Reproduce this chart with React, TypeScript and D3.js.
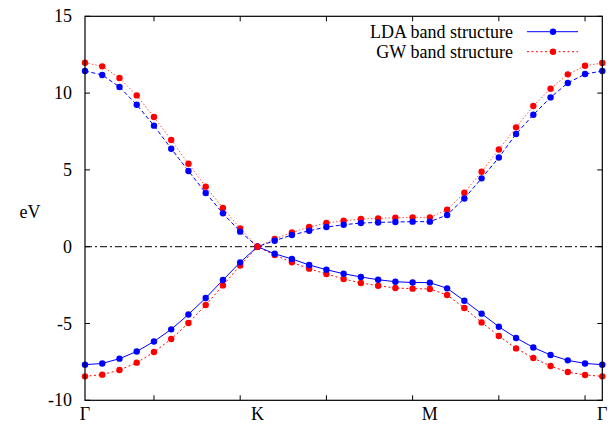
import { useEffect, useRef } from 'react';
import * as d3 from 'd3';

// k-point index along the path Γ -> K -> M -> Γ
const kPoints = [1, 2, 3, 4, 5, 6, 7, 8, 9, 10, 11, 12, 13, 14, 15, 16, 17, 18, 19, 20, 21, 22, 23, 24, 25, 26, 27, 28, 29, 30, 31];

const ldaValence = [-7.68, -7.60, -7.29, -6.82, -6.17, -5.38, -4.41, -3.34, -2.17, -1.02, 0,
  -0.46, -0.80, -1.19, -1.50, -1.76, -1.97, -2.15, -2.28, -2.33, -2.34,
  -2.71, -3.52, -4.36, -5.21, -5.94, -6.56, -7.05, -7.40, -7.60, -7.68];
const ldaConduction = [11.44, 11.18, 10.40, 9.24, 7.88, 6.38, 4.93, 3.50, 2.17, 0.98, 0,
  0.39, 0.76, 1.04, 1.28, 1.43, 1.54, 1.58, 1.61, 1.63, 1.63,
  2.06, 3.14, 4.45, 5.81, 7.34, 8.59, 9.72, 10.66, 11.24, 11.44];
const gwValence = [-8.44, -8.33, -8.03, -7.55, -6.86, -6.01, -4.97, -3.80, -2.52, -1.22, 0,
  -0.54, -1.02, -1.43, -1.78, -2.10, -2.36, -2.54, -2.69, -2.73, -2.75,
  -3.14, -3.99, -4.93, -5.81, -6.62, -7.25, -7.77, -8.16, -8.35, -8.44];
const gwConduction = [11.98, 11.74, 10.98, 9.85, 8.44, 6.95, 5.40, 3.91, 2.52, 1.19, 0,
  0.50, 0.93, 1.28, 1.54, 1.69, 1.80, 1.84, 1.89, 1.91, 1.91,
  2.41, 3.52, 4.88, 6.33, 7.77, 9.16, 10.29, 11.22, 11.78, 11.96];

const yTicks = [-10, -5, 0, 5, 10, 15];
const xTicks = [5, 10, 15, 20, 25, 30];
const symmetryLabels = ['Γ', 'K', 'M', 'Γ'];
const symmetryPoints = [1, 11, 21, 31];
const legendLabels = ['LDA band structure', 'GW band structure'];

const width = 613;
const height = 424;
const font = "'Liberation Serif', Tinos, 'Times New Roman', Times, 'Noto Serif', 'DejaVu Serif', serif";

const App = () => {
  const svgRef = useRef<SVGSVGElement | null>(null);

  useEffect(() => {
    if (!svgRef.current) return;
    const svg = d3.select(svgRef.current);
    svg.selectAll('*').remove();

    const left = 85, right = 602.3, top = 16.3, bottom = 400.3;
    const x = d3.scaleLinear().domain([1, 31]).range([left, right]);
    const y = d3.scaleLinear().domain([-10, 15]).range([bottom, top]);

    const line = d3.line<number>()
      .x((_, i) => x(kPoints[i]))
      .y(d => y(d));

    // zero line
    svg.append('line')
      .attr('x1', left).attr('x2', right)
      .attr('y1', y(0)).attr('y2', y(0))
      .attr('stroke', '#000')
      .attr('stroke-width', 1)
      .attr('stroke-dasharray', '7,3,2,3');

    const series = [
      { data: gwConduction, color: '#ff0000', dash: '1.5,2', opacity: 0.7 },
      { data: gwValence, color: '#ff0000', dash: '2,2.5', opacity: 1 },
      { data: ldaConduction, color: '#0000ff', dash: '4,2.5', opacity: 1 },
      { data: ldaValence, color: '#0000ff', dash: null, opacity: 1 },
    ];

    series.forEach(s => {
      svg.append('path')
        .attr('d', line(s.data))
        .attr('fill', 'none')
        .attr('stroke', s.color)
        .attr('stroke-opacity', s.opacity)
        .attr('stroke-width', 1)
        .attr('stroke-dasharray', s.dash);
    });

    // points: GW first, LDA on top where they overlap
    [gwConduction, gwValence].forEach(d => {
      svg.append('g').selectAll('circle')
        .data(d)
        .enter()
        .append('circle')
        .attr('cx', (_, i) => x(kPoints[i]))
        .attr('cy', v => y(v))
        .attr('r', 3.2)
        .attr('fill', '#ff0000');
    });
    [ldaConduction, ldaValence].forEach(d => {
      svg.append('g').selectAll('circle')
        .data(d)
        .enter()
        .append('circle')
        .attr('cx', (_, i) => x(kPoints[i]))
        .attr('cy', v => y(v))
        .attr('r', 3.2)
        .attr('fill', '#0000ff');
    });
    // red point at K sits on top in the reference
    svg.append('circle')
      .attr('cx', x(kPoints[10])).attr('cy', y(gwValence[10]))
      .attr('r', 3.2).attr('fill', '#ff0000');

    // frame
    svg.append('rect')
      .attr('x', left).attr('y', top)
      .attr('width', right - left).attr('height', bottom - top)
      .attr('fill', 'none').attr('stroke', '#000').attr('stroke-width', 1.2);

    const text = (tx: number, ty: number, s: string, anchor: string) =>
      svg.append('text')
        .attr('x', tx).attr('y', ty)
        .attr('text-anchor', anchor)
        .attr('font-family', font)
        .attr('font-size', 18)
        .attr('fill', '#000')
        .text(s);

    // y ticks, both sides
    yTicks.forEach(t => {
      svg.append('line').attr('x1', left).attr('x2', left + 5)
        .attr('y1', y(t)).attr('y2', y(t)).attr('stroke', '#000');
      svg.append('line').attr('x1', right).attr('x2', right - 5)
        .attr('y1', y(t)).attr('y2', y(t)).attr('stroke', '#000');
      text(left - 13, y(t) + 6, String(t), 'end');
    });

    // x ticks, bottom and top, no labels
    xTicks.forEach(t => {
      svg.append('line').attr('x1', x(t)).attr('x2', x(t))
        .attr('y1', bottom).attr('y2', bottom - 5).attr('stroke', '#000');
      svg.append('line').attr('x1', x(t)).attr('x2', x(t))
        .attr('y1', top).attr('y2', top + 5).attr('stroke', '#000');
    });

    symmetryLabels.forEach((lab, i) => {
      text(x(symmetryPoints[i]), 420, lab, 'middle');
    });

    text(30, 218, 'eV', 'middle');

    // legend
    const legendStyles = [
      { color: '#0000ff', dash: null },
      { color: '#ff0000', dash: '2,2.5' },
    ];
    legendLabels.forEach((lab, i) => {
      const ly = 31.7 + i * 20;
      text(513, ly + 6, lab, 'end');
      svg.append('line')
        .attr('x1', 527).attr('x2', 578)
        .attr('y1', ly).attr('y2', ly)
        .attr('stroke', legendStyles[i].color)
        .attr('stroke-dasharray', legendStyles[i].dash);
      svg.append('circle')
        .attr('cx', 553).attr('cy', ly).attr('r', 3.2)
        .attr('fill', legendStyles[i].color);
    });
  }, []);

  return (
    <svg ref={svgRef} width={width} height={height}
      style={{ position: 'absolute', left: 0, top: 0, background: '#fff' }}></svg>
  );
};

export default App;
